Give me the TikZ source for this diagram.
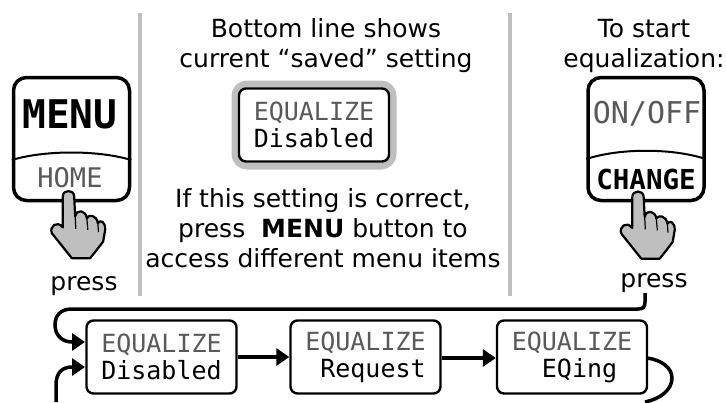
\documentclass[tikz,border=0pt]{standalone}
\usepackage{fontspec}
\setmainfont{DejaVu Sans}
\newfontfamily\monof{DejaVu Sans Mono}
\usetikzlibrary{arrows.meta}
\definecolor{txtgray}{HTML}{595959}
\definecolor{rulegray}{HTML}{BFBFBF}
\tikzset{
  divider/.style={draw=rulegray,line width=4pt},
  btn/.style={draw=black,line width=3.5pt,rounded corners=13pt,fill=white,minimum width=#1,minimum height=123pt,inner sep=0pt},
  lcd/.style={draw=black,line width=2.4pt,rounded corners=7pt,fill=white,minimum width=150pt,minimum height=73pt,inner sep=0pt,align=left,font=\monof\fontsize{25}{27}\selectfont},
  caption/.style={align=center,inner sep=0pt,font=\fontsize{25}{30}\selectfont},
  flow/.style={draw=black,line width=3.5pt,-{Triangle[length=13pt,width=17pt]}},
  plain/.style={draw=black,line width=3.5pt},
  btnarc/.style={draw=black,line width=2pt},
  handshape/.style={draw=black,line width=2.2pt,fill=rulegray,line join=round},
  handline/.style={draw=black,line width=1.2pt},
}
\newcommand{\handat}[1]{%
 \begin{scope}[shift={(#1)},x=0.3333pt,y=-0.3333pt]
  \path[handshape] (-17,15) .. controls (-17,-7) and (17,-7) .. (17,15) -- (20,75)
    .. controls (24,52) and (52,55) .. (55,80)
    .. controls (60,68) and (85,70) .. (88,95)
    .. controls (95,82) and (112,92) .. (110,115)
    -- (104,150) -- (85,175) -- (65,200) -- (10,200) -- (-50,125)
    .. controls (-58,105) and (-35,85) .. (-17,108) -- cycle;
  \draw[handline] (20,75) -- (22,112);
  \draw[handline] (55,80) -- (58,115);
  \draw[handline] (88,95) -- (90,122);
 \end{scope}}
\begin{document}
\begin{tikzpicture}[x=1pt,y=-1pt]
\useasboundingbox[fill=white] (0,0) rectangle (726,402);
% dividers
\coordinate (d1a) at (139.5,13); \coordinate (d1b) at (139.5,296);
\coordinate (d2a) at (509.5,13); \coordinate (d2b) at (509.5,296);
\draw[divider] (d1a) -- (d1b);
\draw[divider] (d2a) -- (d2b);
% left button
\node[btn=116pt] (menubtn) at (71.5,139) {};
\coordinate (mL) at (menubtn.west |- 0,160);
\coordinate (mR) at (menubtn.east |- 0,160);
\draw[btnarc] (mL) .. controls (45,150) and (98,150) .. (mR);
\node[inner sep=0pt,font=\monof\bfseries\fontsize{39.5}{39.5}\selectfont] (menu) at (70,114) {MENU};
\node[inner sep=0pt,text=txtgray,font=\monof\fontsize{27}{27}\selectfont] (home) at (70,178) {HOME};
\handat{68.5,191.5}
\node[caption] (press1) at (84,286.5) {press};
% middle
\node[caption] (mid1) at (326,45.5) {Bottom line shows\\current “saved” setting};
\node[draw=rulegray,line width=7pt,rounded corners=12pt,minimum width=158pt,minimum height=82pt] (frame) at (314,125) {};
\node[lcd] (lcdmain) at (314,125) {\textcolor{txtgray}{EQUALIZE}\\Disabled};
\node[caption] (mid2) at (323,228.5) {If this setting is correct,\\press\ \ \textbf{MENU} button to\\access different menu items};
% right
\node[caption] (right1) at (644,45.5) {To start\\equalization:};
\node[btn=116pt] (chgbtn) at (646,139) {};
\coordinate (cL) at (chgbtn.west |- 0,159);
\coordinate (cR) at (chgbtn.east |- 0,159);
\draw[btnarc] (cL) .. controls (620,148) and (672,148) .. (cR);
\node[inner sep=0pt,text=txtgray,font=\monof\fontsize{30}{30}\selectfont] (onoff) at (647,114) {ON/OFF};
\node[inner sep=0pt,font=\monof\bfseries\fontsize{27.5}{27.5}\selectfont] (change) at (646,179) {CHANGE};
\handat{638,192}
\node[caption] (press2) at (654,283.5) {press};
% lower row
\node[lcd] (s1) at (161.5,357) {\textcolor{txtgray}{EQUALIZE}\\Disabled};
\node[lcd] (s2) at (365.5,357) {\textcolor{txtgray}{EQUALIZE}\\\hphantom{E}Request};
\node[lcd] (s3) at (572,357) {\textcolor{txtgray}{EQUALIZE}\\\hphantom{EE}EQing\hphantom{E}};
\draw[flow] (s1.east |- 0,357) -- (s2.west |- 0,357);
\draw[flow] (s2.east |- 0,358) -- (s3.west |- 0,358);
% loops
\coordinate (top) at (645,293);
\coordinate (e1) at (85,342);
\coordinate (e2) at (85,367);
\coordinate (b1) at (56,402);
\coordinate (b2) at (645,402);
\coordinate (s3r) at (647,358);
\draw[flow] (top) -- (645,302) .. controls (645,307) and (643,309) .. (638,309) -- (72,309)
   .. controls (60,309) and (55,316) .. (55,325) .. controls (55,335) and (62,342) .. (72,342) -- (e1);
\draw[flow] (b1) -- (56,385) .. controls (56,373) and (62,367) .. (72,367) -- (e2);
\draw[plain] (s3r) .. controls (662,360) and (672,368) .. (672,378) .. controls (672,390) and (660,399) .. (b2);
\end{tikzpicture}
\end{document}
